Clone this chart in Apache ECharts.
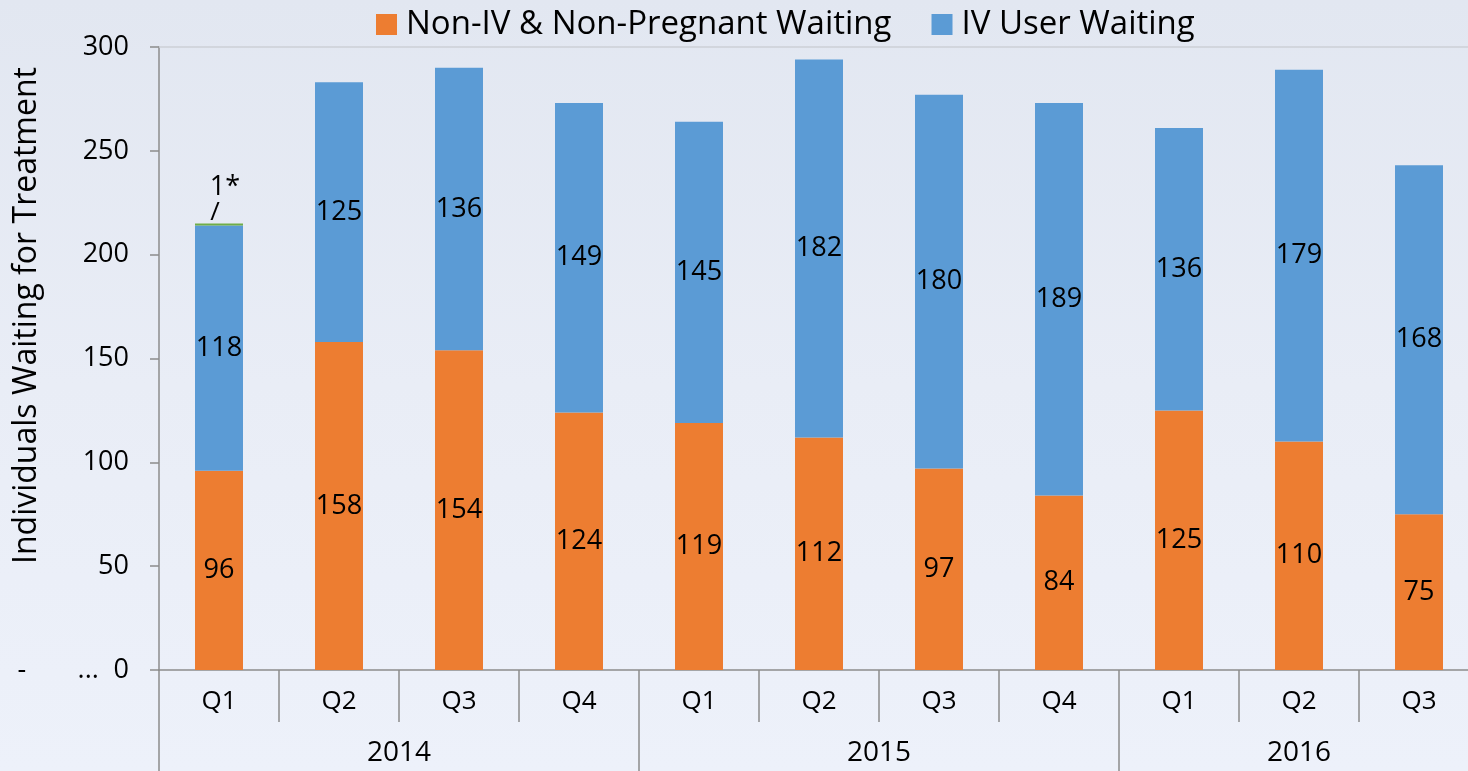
<!DOCTYPE html>
<html>
<head>
<meta charset="utf-8">
<script src="https://cdn.jsdelivr.net/npm/echarts@6/dist/echarts.min.js"></script>
<style>
  html, body { margin: 0; padding: 0; }
  #chart { width: 1468px; height: 771px; background: linear-gradient(180deg, #e2e7f1 0%, #e9edf6 50%, #edf1fa 100%); }
</style>
</head>
<body>
<div id="chart"></div>
<script>
const quarters = ['Q1', 'Q2', 'Q3', 'Q4', 'Q1', 'Q2', 'Q3', 'Q4', 'Q1', 'Q2', 'Q3']
const years = ['2014', '2015', '2016']
const yearCenters = [2, 6, 9.5]
const yearBounds = [0, 4, 8, 11]
const nonIV = [96, 158, 154, 124, 119, 112, 97, 84, 125, 110, 75]
const ivUser = [118, 125, 136, 149, 145, 182, 180, 189, 136, 179, 168]
const pregnant = [1, null, null, null, null, null, null, null, null, null, null]
const yTicks = [0, 300, 50]

const FONT = '"Open Sans", sans-serif'
const chart = echarts.init(document.getElementById('chart'))

const barLabel = {
  show: true,
  position: 'inside',
  color: '#000',
  fontSize: 27,
  fontFamily: FONT,
}

chart.setOption({
  textStyle: { fontFamily: FONT },
  legend: {
    data: ['Non-IV & Non-Pregnant Waiting', 'IV User Waiting'],
    top: 3,
    left: 371,
    icon: 'rect',
    itemWidth: 21,
    itemHeight: 21,
    itemGap: 40,
    textStyle: { fontSize: 33, color: '#000', padding: [0, 0, 0, 4] },
  },
  grid: { left: 159, top: 47, width: 1320, height: 623, containLabel: false, outerBoundsMode: 'none' },
  xAxis: [
    {
      type: 'category',
      data: quarters,
      position: 'bottom',
      axisLine: { lineStyle: { color: '#8c8c8c', width: 1.5 } },
      axisTick: { show: true, length: 52, lineStyle: { color: '#8c8c8c', width: 1.5 } },
      axisLabel: { color: '#000', fontSize: 26, margin: 19 },
    },
    {
      type: 'value',
      min: 0,
      max: 11,
      position: 'bottom',
      axisLine: { show: false },
      splitLine: { show: false },
      axisTick: { show: true, customValues: yearBounds, length: 101, lineStyle: { color: '#8c8c8c', width: 1.5 } },
      axisLabel: {
        customValues: yearCenters,
        color: '#000',
        fontSize: 28,
        margin: 69,
        formatter: (v) => years[yearCenters.indexOf(v)],
      },
    },
    {
      type: 'category',
      data: quarters,
      position: 'top',
      axisLine: { lineStyle: { color: '#cdd0d6', width: 1.5 } },
      axisTick: { show: false },
      axisLabel: { show: false },
    },
  ],
  yAxis: {
    type: 'value',
    min: yTicks[0],
    max: yTicks[1],
    interval: yTicks[2],
    name: 'Individuals Waiting for Treatment',
    nameLocation: 'middle',
    nameGap: 116,
    nameMoveOverlap: false,
    nameTextStyle: { fontSize: 32, color: '#000', padding: [0, 0, 0, 86] },
    axisLine: { show: true, lineStyle: { color: '#8c8c8c', width: 1.5 } },
    axisTick: { show: true, length: 9, lineStyle: { color: '#8c8c8c', width: 1.5 } },
    splitLine: { show: false },
    axisLabel: {
      color: '#000',
      fontSize: 27,
      margin: 30,
      formatter: (v) => v === 0 ? '{a|-}{b|...}{c|0}' : String(v),
      rich: {
        a: { width: 60, align: 'left', fontSize: 27, color: '#000' },
        b: { width: 36, align: 'left', fontSize: 27, color: '#000' },
        c: { fontSize: 27, color: '#000' },
      },
    },
  },
  series: [
    {
      name: 'Non-IV & Non-Pregnant Waiting',
      type: 'bar',
      stack: 'total',
      barWidth: 48,
      data: nonIV,
      itemStyle: { color: '#ed7d31' },
      label: barLabel,
    },
    {
      name: 'IV User Waiting',
      type: 'bar',
      stack: 'total',
      barWidth: 48,
      data: ivUser,
      itemStyle: { color: '#5b9bd5' },
      label: barLabel,
    },
    {
      name: 'Pregnant',
      type: 'bar',
      stack: 'total',
      barWidth: 48,
      data: pregnant,
      itemStyle: { color: '#70ad47' },
      label: {
        show: true,
        position: 'top',
        distance: 0,
        formatter: (p) => p.value == null ? '' : '{n|' + p.value + '*}\n{s|/}',
        rich: {
          n: { fontSize: 27, color: '#000', lineHeight: 28, padding: [0, 0, 0, 12] },
          s: { fontSize: 26, color: '#000', lineHeight: 22, padding: [0, 8, 0, 0] },
        },
      },
    },
  ],
})
</script>
</body>
</html>
